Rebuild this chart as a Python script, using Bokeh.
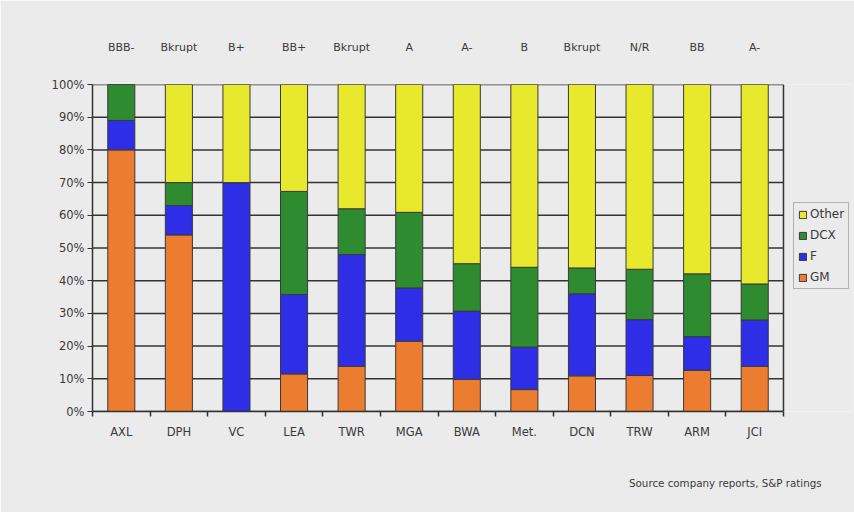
from bokeh.plotting import figure
from bokeh.models import (ColumnDataSource, FixedTicker, LinearAxis, Legend, LegendItem,
                          NumeralTickFormatter, Range1d, Span)
from bokeh.embed import file_html
from bokeh.resources import INLINE

companies = ["AXL", "DPH", "VC", "LEA", "TWR", "MGA", "BWA", "Met.", "DCN", "TRW", "ARM", "JCI"]
ratings = ["BBB-", "Bkrupt", "B+", "BB+", "Bkrupt", "A", "A-", "B", "Bkrupt", "N/R", "BB", "A-"]
gm = [80, 54, 0, 11.5, 13.8, 21.5, 9.8, 6.7, 10.9, 11, 12.6, 13.8]
f = [9, 9, 70, 24.3, 34.2, 16.3, 20.9, 13.0, 25.1, 17.1, 10.3, 14.2]
dcx = [11, 7, 0, 31.5, 14, 23.1, 14.5, 24.4, 7.9, 15.4, 19.2, 11]
other = [0, 30, 30, 32.7, 38, 39.1, 54.8, 55.9, 56.1, 56.5, 57.9, 61]
y_ticks = [0, 10, 20, 30, 40, 50, 60, 70, 80, 90, 100]
source_note = "Source company reports, S&P ratings"

series = ["GM", "F", "DCX", "Other"]
colors = ["#ec7c30", "#2e2ee6", "#2e8b30", "#e8e82c"]

n = len(companies)
x = list(range(1, n + 1))
src = ColumnDataSource(dict(
    x=x,
    GM=[v / 100 for v in gm],
    F=[v / 100 for v in f],
    DCX=[v / 100 for v in dcx],
    Other=[v / 100 for v in other],
))
yt = [t / 100 for t in y_ticks]

BG = "#ebebeb"
FONT = "DejaVu Sans"
TXT = "#3a3a3a"
LINE = "#333333"

# frame extends to the right to host the legend; bar area is 0.5 .. n+0.5
x_lo, x_hi = 0.5, n + 0.5
x_end = x_lo + (x_hi - x_lo) * 760 / 691

p = figure(width=854, height=512, frame_width=760, frame_height=327,
           output_backend="svg", toolbar_location=None,
           x_range=Range1d(x_lo, x_end), y_range=Range1d(0, 1),
           x_axis_location=None, y_axis_location=None,
           min_border_left=92, min_border_right=2, min_border_top=84, min_border_bottom=101)
p.background_fill_color = BG
p.border_fill_color = BG
p.outline_line_color = None
p.xgrid.grid_line_color = None
p.ygrid.grid_line_color = None

# horizontal grid lines across the bar area only
grid_src = ColumnDataSource(dict(y=yt, x0=[x_lo] * len(yt), x1=[x_hi] * len(yt)))
p.segment(x0="x0", x1="x1", y0="y", y1="y", source=grid_src,
          line_color=LINE, line_width=1.5, level="underlay")
p.add_layout(Span(location=x_hi, dimension="height", line_color=LINE, line_width=1.5))

renderers = p.vbar_stack(series, x="x", width=0.47, source=src, color=colors,
                         line_color="#3a3a3a", line_width=1)

# y axis
yaxis = LinearAxis(ticker=FixedTicker(ticks=yt),
                   formatter=NumeralTickFormatter(format="0%"))
yaxis.axis_line_color = LINE
yaxis.axis_line_width = 1.5
yaxis.major_tick_line_color = LINE
yaxis.major_tick_in = 0
yaxis.major_tick_out = 5
yaxis.minor_tick_line_color = None
yaxis.major_label_text_font = FONT
yaxis.major_label_text_font_size = "11.5px"
yaxis.major_label_text_color = TXT
yaxis.major_label_standoff = 3
p.add_layout(yaxis, "left")

# x axis (bottom): labels at centers, ticks at boundaries
xaxis = LinearAxis(ticker=FixedTicker(ticks=x, minor_ticks=[i + 0.5 for i in range(0, n + 1)]),
                   bounds=(x_lo, x_hi))
xaxis.major_label_overrides = {i: c for i, c in zip(x, companies)}
xaxis.axis_line_color = LINE
xaxis.axis_line_width = 1.5
xaxis.major_tick_line_color = None
xaxis.minor_tick_line_color = LINE
xaxis.minor_tick_in = 0
xaxis.minor_tick_out = 5
xaxis.minor_tick_line_width = 1.5
xaxis.major_label_text_font = FONT
xaxis.major_label_text_font_size = "11.5px"
xaxis.major_label_text_color = TXT
xaxis.major_label_standoff = 7
p.add_layout(xaxis, "below")

# source note as a label-only axis below
note_pos = 11.49
saxis = LinearAxis(ticker=FixedTicker(ticks=[note_pos]))
saxis.major_label_overrides = {note_pos: source_note}
saxis.axis_line_color = None
saxis.major_tick_line_color = None
saxis.minor_tick_line_color = None
saxis.major_label_text_font = FONT
saxis.major_label_text_font_size = "10.3px"
saxis.major_label_text_color = TXT
saxis.major_label_standoff = 29
p.add_layout(saxis, "below")

# ratings axis (above)
raxis = LinearAxis(ticker=FixedTicker(ticks=x))
raxis.major_label_overrides = {i: r for i, r in zip(x, ratings)}
raxis.axis_line_color = None
raxis.major_tick_line_color = None
raxis.minor_tick_line_color = None
raxis.major_label_text_font = FONT
raxis.major_label_text_font_size = "11px"
raxis.major_label_text_color = TXT
raxis.major_label_standoff = 25
p.add_layout(raxis, "above")

items = [LegendItem(label=s, renderers=[r]) for s, r in zip(series, renderers)][::-1]
legend = Legend(items=items, location=(701, 122))
legend.label_text_font = FONT
legend.label_text_font_size = "12px"
legend.label_text_color = TXT
legend.glyph_width = 9
legend.glyph_height = 9
legend.label_height = 12
legend.spacing = 7
legend.padding = 4
legend.margin = 0
legend.label_standoff = 3
legend.border_line_color = "#777777"
legend.border_line_width = 1.5
legend.background_fill_color = BG
legend.background_fill_alpha = 1
p.add_layout(legend, "center")

open("out.html", "w").write(file_html(p, INLINE))
